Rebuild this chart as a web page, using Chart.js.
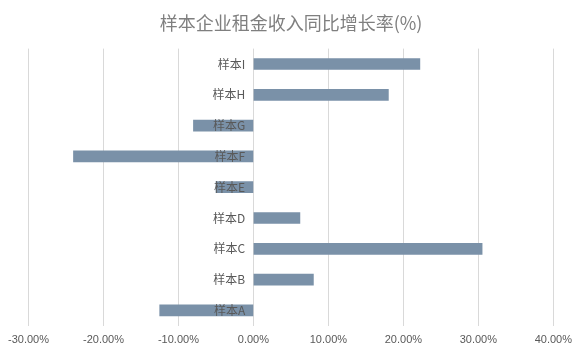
<!DOCTYPE html>
<html>
<head>
<meta charset="utf-8">
<script src="https://cdn.jsdelivr.net/npm/chart.js@4"></script>
<style>
html,body{margin:0;padding:0;background:#fff;}
#wrap{width:580px;height:356px;position:relative;}
</style>
</head>
<body>
<div id="wrap"><canvas id="c"></canvas></div>
<script>
const titleText = '样本企业租金收入同比增长率(%)';
const categories = ['样本I','样本H','样本G','样本F','样本E','样本D','样本C','样本B','样本A'];
const growthRate = [22.2, 18.0, -8.0, -24.0, -5.0, 6.2, 30.5, 8.0, -12.5];
const xTicks = [-30, -20, -10, 0, 10, 20, 30, 40];

const FONT = "'Noto Sans CJK SC','Liberation Sans',sans-serif";

new Chart(document.getElementById('c'), {
  type: 'bar',
  data: {
    labels: categories,
    datasets: [{
      data: growthRate,
      backgroundColor: '#7a91a8',
      borderWidth: 0,
      barThickness: 11
    }]
  },
  options: {
    indexAxis: 'y',
    responsive: true,
    maintainAspectRatio: false,
    animation: false,
    layout: { padding: { left: 28, right: 26, top: 0, bottom: 1 } },
    plugins: {
      legend: { display: false },
      tooltip: { enabled: false },
      title: {
        display: true,
        text: titleText,
        color: '#7f7f7f',
        font: { family: FONT, size: 18, weight: 'normal' },
        padding: { top: 12, bottom: 15 }
      }
    },
    scales: {
      x: {
        min: -30,
        max: 40,
        afterBuildTicks: (axis) => { axis.ticks = xTicks.map(v => ({ value: v })); },
        ticks: {
          color: '#595959',
          font: { family: "'Liberation Sans',Arial,sans-serif", size: 11 },
          padding: 8,
          maxRotation: 0,
          callback: (v) => Number(v).toFixed(2) + '%'
        },
        grid: { color: '#d9d9d9', lineWidth: 1, drawTicks: false },
        border: { display: false }
      },
      y: {
        position: { x: -1.1 },
        ticks: {
          z: 1,
          color: '#595959',
          font: { family: FONT, size: 12 }
        },
        grid: { display: false, drawTicks: false },
        border: { display: false }
      }
    }
  }
});
</script>
</body>
</html>
